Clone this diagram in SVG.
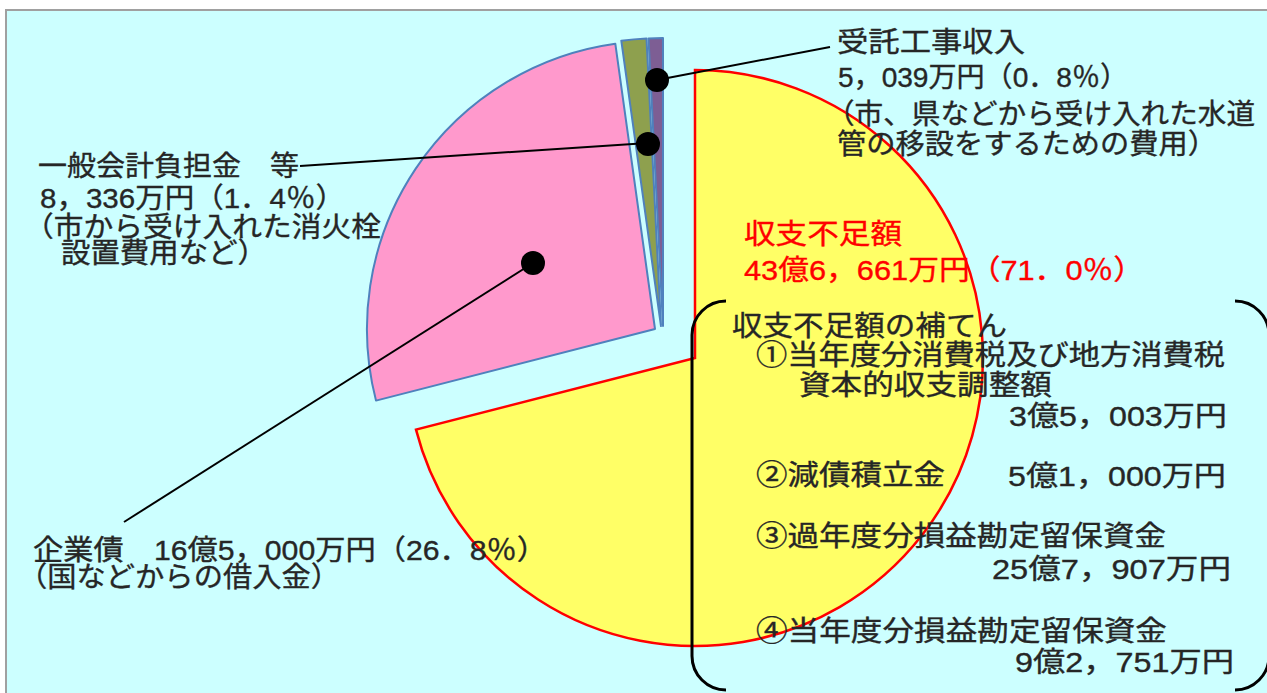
<svg xmlns="http://www.w3.org/2000/svg" width="1267" height="693" viewBox="0 0 1267 693">
<style>
.t{font-family:"Liberation Sans","Noto Sans CJK JP","Noto Sans CJK SC",sans-serif;font-size:28px;fill:#262626;stroke:#262626;stroke-width:0.35}
.r{fill:#ff0000;stroke:#ff0000}
.sl{stroke:#4f81bd;stroke-width:2;stroke-linejoin:round}
.ld{stroke:#000;stroke-width:2;fill:none}
.dot{fill:#000}
.br{stroke:#000;stroke-width:3;fill:none}
</style>
<rect x="0" y="0" width="1267" height="693" fill="#ffffff"/>
<rect x="6" y="10" width="1275" height="700" fill="#ccffff" stroke="#a0a0a0" stroke-width="2"/>

<g id="slice-shortfall">
<path d="M695,358 L695,70 A288,288 0 1 1 416,429.6 Z" fill="#ffff66" stroke="#ff0000" stroke-width="2.5" stroke-linejoin="miter"/>
</g>
<g id="slice-bonds">
<path class="sl" d="M655,329 L376,400.6 A288,288 0 0 1 615.3,43.7 Z" fill="#ff99cc"/>
</g>
<g id="slice-general">
<path class="sl" d="M661,326 L621.3,40.7 A288,288 0 0 1 646.5,38.4 Z" fill="#8ea04e"/>
</g>
<g id="slice-contract">
<path class="sl" d="M663,326 L648.5,38.4 A288,288 0 0 1 663,38 Z" fill="#7d5e94"/>
</g>

<g id="connectors">
<line class="ld" x1="657" y1="80" x2="830" y2="47"/>
<line class="ld" x1="648" y1="143" x2="300" y2="166"/>
<line class="ld" x1="533" y1="263" x2="124" y2="522"/>
<circle class="dot" cx="657" cy="80" r="12"/>
<circle class="dot" cx="648" cy="144" r="12"/>
<circle class="dot" cx="533" cy="263" r="12"/>
</g>

<g id="bracket">
<path class="br" d="M726,301 A34,34 0 0 0 692,335 L692,656 A34,34 0 0 0 726,690"/>
<path class="br" d="M1235,301 A34,34 0 0 1 1269,335 L1269,656 A34,34 0 0 1 1235,690"/>
</g>

<g id="label-contract">
<text class="t" x="837" y="52" textLength="188" lengthAdjust="spacingAndGlyphs">受託工事収入</text>
<text class="t" x="838" y="87" textLength="290" lengthAdjust="spacingAndGlyphs">5，039万円（0．8％）</text>
<text class="t" x="826" y="124" textLength="429" lengthAdjust="spacingAndGlyphs">（市、県などから受け入れた水道</text>
<text class="t" x="837" y="154" textLength="380" lengthAdjust="spacingAndGlyphs">管の移設をするための費用）</text>
</g>

<g id="label-general">
<text class="t" x="38" y="176" textLength="261" lengthAdjust="spacingAndGlyphs">一般会計負担金　等</text>
<text class="t" x="40" y="208" textLength="305" lengthAdjust="spacingAndGlyphs">8，336万円（1．4％）</text>
<text class="t" x="24" y="237" textLength="357" lengthAdjust="spacingAndGlyphs">（市から受け入れた消火栓</text>
<text class="t" x="61" y="263" textLength="206" lengthAdjust="spacingAndGlyphs">設置費用など）</text>
</g>

<g id="label-bonds">
<text class="t" x="33" y="560" textLength="514" lengthAdjust="spacingAndGlyphs">企業債　16億5，000万円（26．8％）</text>
<text class="t" x="18" y="587" textLength="322" lengthAdjust="spacingAndGlyphs">（国などからの借入金）</text>
</g>

<g id="label-shortfall">
<text class="t r" x="744" y="244" textLength="158" lengthAdjust="spacingAndGlyphs">収支不足額</text>
<text class="t r" x="744" y="280" textLength="400" lengthAdjust="spacingAndGlyphs">43億6，661万円（71．0％）</text>
</g>

<g id="label-compensation">
<text class="t" x="732" y="336" textLength="275" lengthAdjust="spacingAndGlyphs">収支不足額の補てん</text>
<text class="t" x="756" y="365" textLength="469" lengthAdjust="spacingAndGlyphs">①当年度分消費税及び地方消費税</text>
<text class="t" x="799" y="395" textLength="253" lengthAdjust="spacingAndGlyphs">資本的収支調整額</text>
<text class="t" x="1009" y="426" textLength="218" lengthAdjust="spacingAndGlyphs">3億5，003万円</text>
<text class="t" x="756" y="485" textLength="189" lengthAdjust="spacingAndGlyphs">②減債積立金</text>
<text class="t" x="1008" y="486" textLength="218" lengthAdjust="spacingAndGlyphs">5億1，000万円</text>
<text class="t" x="756" y="546" textLength="410" lengthAdjust="spacingAndGlyphs">③過年度分損益勘定留保資金</text>
<text class="t" x="992" y="579" textLength="239" lengthAdjust="spacingAndGlyphs">25億7，907万円</text>
<text class="t" x="756" y="641" textLength="411" lengthAdjust="spacingAndGlyphs">④当年度分損益勘定留保資金</text>
<text class="t" x="1015" y="672" textLength="219" lengthAdjust="spacingAndGlyphs">9億2，751万円</text>
</g>
</svg>
